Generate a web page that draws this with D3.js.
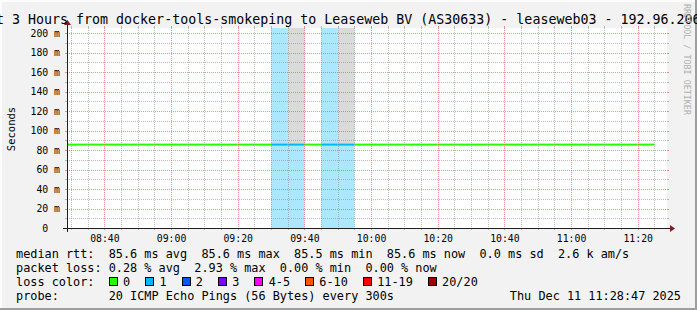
<!DOCTYPE html>
<html><head><meta charset="utf-8">
<script src="https://cdn.jsdelivr.net/npm/d3@7/dist/d3.min.js"></script>
<style>
html,body{margin:0;padding:0;background:#f2f2f2;}
svg{display:block;}
text{font-family:"DejaVu Sans Mono",monospace;white-space:pre;}
</style>
</head><body>
<svg id="c" width="697" height="310"></svg>
<script>
// ---------- data ----------
const titleText = "Last 3 Hours from docker-tools-smokeping to Leaseweb BV (AS30633) - leaseweb03 - 192.96.206";
const graphStart = "2025-12-11 08:28:47";
const graphEnd = "2025-12-11 11:28:47";
const stepStarts = ["08:25","08:30","08:35","08:40","08:45","08:50","08:55","09:00","09:05","09:10","09:15","09:20",
  "09:25","09:30","09:35","09:40","09:45","09:50","09:55","10:00","10:05","10:10","10:15","10:20",
  "10:25","10:30","10:35","10:40","10:45","10:50","10:55","11:00","11:05","11:10","11:15","11:20"];
const medianRtt = [85.6,85.6,85.6,85.6,85.6,85.6,85.6,85.6,85.6,85.6,85.6,85.6,
  85.6,85.6,85.6,85.6,85.6,85.6,85.6,85.6,85.6,85.6,85.6,85.6,
  85.6,85.6,85.6,85.6,85.6,85.6,85.6,85.6,85.6,85.6,85.6,85.6];
const lossCount = [0,0,0,0,0,0,0,0,0,0,0,0,
  0,1,1,0,1,1,0,0,0,0,0,0,
  0,0,0,0,0,0,0,0,0,0,0,0];
const maxPing = [85.6,85.6,85.6,85.6,85.6,85.6,85.6,85.6,85.6,85.6,85.6,85.6,
  85.6,85.6,900,85.6,85.6,900,85.6,85.6,85.6,85.6,85.6,85.6,
  85.6,85.6,85.6,85.6,85.6,85.6,85.6,85.6,85.6,85.6,85.6,85.6];
const yTicks = [0,20,40,60,80,100,120,140,160,180,200];
const yMinorTicks = [10,30,50,70,90,110,130,150,170,190];
const lossLabels = ["0","1","2","3","4-5","6-10","11-19","20/20"];
const lossUpper = [0,1,2,3,5,10,19,20];
const lossColors = ["#26ff00","#00b8ff","#0059ff","#7e00ff","#ff00ff","#ff5500","#ff0000","#a10000"];
const legendLines = [
  "median rtt:  85.6 ms avg  85.6 ms max  85.5 ms min  85.6 ms now  0.0 ms sd  2.6 k am/s",
  "packet loss: 0.28 % avg  2.93 % max  0.00 % min  0.00 % now"
];
const lossLegendLabel = "loss color:";
const probeText = "probe:       20 ICMP Echo Pings (56 Bytes) every 300s";
const dateText = "Thu Dec 11 11:28:47 2025";
const watermark = "RRDTOOL / TOBI OETIKER";
const yLabel = "Seconds";

// ---------- layout ----------
const W = 697, H = 310;
const X0 = 67, X1 = 667, Y0 = 228, Y1 = 28;
const parse = d3.timeParse("%Y-%m-%d %H:%M:%S");
const parseStep = s => parse("2025-12-11 " + s + ":00");
const t0 = parse(graphStart), t1 = parse(graphEnd);
const x = d3.scaleTime().domain([t0, t1]).range([X0, X1]);
const y = d3.scaleLinear().domain([0, 205.3]).range([Y0, Y1]);
const stepMs = 300000;
const steps = stepStarts.map((s, i) => {
  const a = parseStep(s);
  return {a, b: new Date(+a + stepMs), med: medianRtt[i], loss: lossCount[i], max: maxPing[i]};
});
const lossIdx = l => lossUpper.findIndex(u => l <= u);

const svg = d3.select("#c");
// background & frame
svg.append("rect").attr("width", W).attr("height", H).attr("fill", "#f2f2f2");
svg.append("path").attr("d", `M0,0H${W}V2H2V${H}H0Z`).attr("fill", "#fcfcfc");
svg.append("path").attr("d", `M${W},${H}H0V${H-2}H${W-2}V0H${W}Z`).attr("fill", "#9e9e9e");
// canvas
svg.append("rect").attr("x", X0).attr("y", Y1).attr("width", X1 - X0).attr("height", Y0 - Y1).attr("fill", "#fff");

svg.append("clipPath").attr("id", "pc").append("rect")
  .attr("x", X0).attr("y", Y1).attr("width", X1 - X0).attr("height", Y0 - Y1);
const plot = svg.append("g").attr("clip-path", "url(#pc)");

// loss background
plot.selectAll("rect.lossbg").data(steps.filter(d => d.loss > 0)).join("rect")
  .attr("x", d => x(d.a)).attr("width", d => x(d.b) - x(d.a))
  .attr("y", Y1).attr("height", Y0 - Y1)
  .attr("fill", d => lossColors[lossIdx(d.loss)]).attr("fill-opacity", 0.33);
// smoke
plot.selectAll("rect.smoke").data(steps.filter(d => d.max > d.med)).join("rect")
  .attr("x", d => x(d.a)).attr("width", d => x(d.b) - x(d.a))
  .attr("y", d => Math.max(Y1, y(d.max))).attr("height", d => y(d.med) - Math.max(Y1, y(d.max)))
  .attr("fill", "#dadada");

// grid
const grid = svg.append("g").attr("shape-rendering", "crispEdges");
const minorCol = "rgba(143,143,143,0.6)", majorCol = "rgba(222,79,79,0.6)";
const xMinor = x.ticks(d3.timeMinute.every(5)).filter(t => t.getMinutes() % 20 !== 0);
const xMajor = x.ticks(d3.timeMinute.every(20));
function vline(t, col) {
  const px = Math.round(x(t)) + 0.5;
  grid.append("line").attr("x1", px).attr("x2", px).attr("y1", Y1).attr("y2", Y0)
    .attr("stroke", col).attr("stroke-dasharray", "1,1");
  grid.append("line").attr("x1", px).attr("x2", px).attr("y1", Y1 - 2).attr("y2", Y1).attr("stroke", col);
  grid.append("line").attr("x1", px).attr("x2", px).attr("y1", Y0).attr("y2", Y0 + 2).attr("stroke", col);
}
function hline(v, col) {
  const py = Math.round(y(v)) + 0.5;
  grid.append("line").attr("x1", X0).attr("x2", X1).attr("y1", py).attr("y2", py)
    .attr("stroke", col).attr("stroke-dasharray", "1,1");
  grid.append("line").attr("x1", X0 - 2).attr("x2", X0).attr("y1", py).attr("y2", py).attr("stroke", col);
  grid.append("line").attr("x1", X1).attr("x2", X1 + 2).attr("y1", py).attr("y2", py).attr("stroke", col);
}
xMinor.forEach(t => vline(t, minorCol));
yMinorTicks.forEach(v => hline(v, minorCol));
xMajor.forEach(t => vline(t, majorCol));
yTicks.filter(v => v > 0).forEach(v => hline(v, majorCol));

// median line, coloured by loss
plot.selectAll("line.med").data(steps).join("line")
  .attr("x1", d => x(d.a)).attr("x2", d => x(d.b))
  .attr("y1", d => y(d.med)).attr("y2", d => y(d.med))
  .attr("stroke", d => lossColors[lossIdx(d.loss)]).attr("stroke-width", 2);

// axes lines + arrows
const ax = svg.append("g").attr("shape-rendering", "crispEdges");
ax.append("line").attr("x1", X0 - 4).attr("x2", X1 + 4).attr("y1", Y0 + 0.5).attr("y2", Y0 + 0.5).attr("stroke", "#1f1f1f");
ax.append("line").attr("x1", X0 + 0.5).attr("x2", X0 + 0.5).attr("y1", Y0 + 4).attr("y2", Y1 - 4).attr("stroke", "#1f1f1f");
svg.append("path").attr("d", `M${X1+3},${Y0-3}L${X1+3},${Y0+4}L${X1+8},${Y0+0.5}Z`).attr("fill", "#801f1f");
svg.append("path").attr("d", `M${X0-3},${Y1-3}L${X0+4},${Y1-3}L${X0+0.5},${Y1-8}Z`).attr("fill", "#801f1f");

// axis labels via d3 axes
const xAxis = svg.append("g").attr("transform", `translate(0,${Y0})`)
  .call(d3.axisBottom(x).ticks(d3.timeMinute.every(20)).tickFormat(d3.timeFormat("%H:%M")).tickSize(0).tickPadding(7));
const yAxis = svg.append("g").attr("transform", `translate(${X0},0)`)
  .call(d3.axisLeft(y).tickValues(yTicks).tickFormat(d => d === 0 ? "0  " : d + " m").tickSize(0).tickPadding(7));
[xAxis, yAxis].forEach(g => {
  g.select(".domain").remove();
  g.selectAll("text").attr("font-family", "DejaVu Sans Mono").attr("font-size", 9.8).attr("fill", "#000");
});

// y label
svg.append("text").attr("transform", `translate(14.5,${(Y0 + Y1) / 2 + 1}) rotate(-90)`)
  .attr("text-anchor", "middle").attr("font-size", 10.5).attr("fill", "#000").text(yLabel);

// title
svg.append("text").attr("x", -28).attr("y", 24).attr("font-size", 13.3).attr("fill", "#000").text(titleText);

// watermark
svg.append("text").attr("transform", "translate(683.5,4) rotate(90)")
  .attr("font-size", 8.4).attr("fill", "#b0b0b0").text(watermark);

// legend
const LX = 16, FS = 11.85, CW = 7.136;
const lg = svg.append("g").attr("font-size", FS).attr("fill", "#000");
lg.append("text").attr("x", LX).attr("y", 258).text(legendLines[0]);
lg.append("text").attr("x", LX).attr("y", 272).text(legendLines[1]);
lg.append("text").attr("x", LX).attr("y", 286).text(lossLegendLabel);
let cx = LX + 13 * CW;
lossLabels.forEach((lab, i) => {
  lg.append("rect").attr("x", Math.round(cx) + 0.5).attr("y", 277.5).attr("width", 8).attr("height", 8)
    .attr("fill", lossColors[i]).attr("stroke", "#000").attr("stroke-width", 1);
  lg.append("text").attr("x", cx + 2 * CW).attr("y", 286).text(lab);
  cx += 2 * CW + lab.length * CW + 15;
});
lg.append("text").attr("x", LX).attr("y", 300).text(probeText);
lg.append("text").attr("x", 681).attr("y", 300).attr("text-anchor", "end").text(dateText);
</script>
</body></html>
